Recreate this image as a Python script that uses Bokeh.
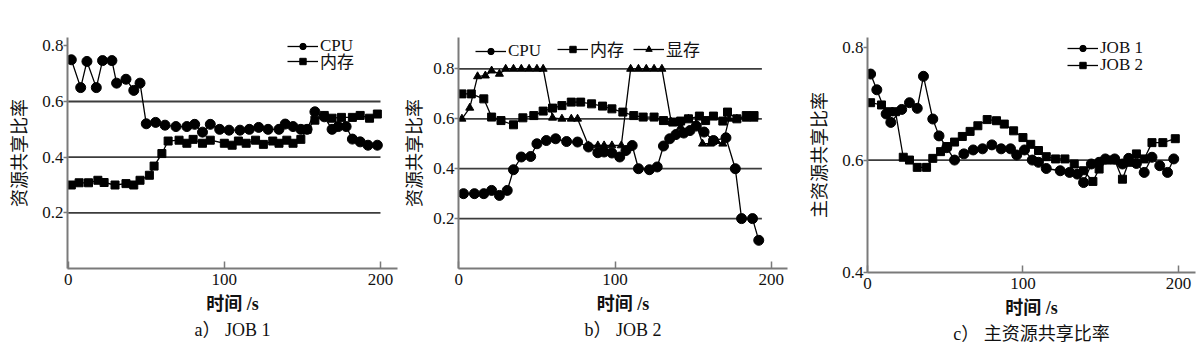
from bokeh.plotting import figure
from bokeh.layouts import row
from bokeh.models import Range1d, FixedTicker, Legend, LegendItem, Title
from bokeh.embed import file_html
from bokeh.resources import INLINE

# ---------------- data ----------------
# (a) JOB 1
cpu_a_t = [2, 8, 12, 18, 22, 28, 31, 37, 42, 46, 50, 56, 62, 69, 76, 81, 86, 91, 97, 103,
           110, 116, 122, 128, 135, 139, 144, 149, 153, 158, 164, 169, 173, 178, 182, 187, 192, 198]
cpu_a = [0.75, 0.65, 0.744, 0.65, 0.747, 0.747, 0.666, 0.68, 0.64, 0.666,
         0.52, 0.525, 0.515, 0.51, 0.51, 0.518, 0.49, 0.518, 0.50, 0.497,
         0.497, 0.50, 0.507, 0.50, 0.50, 0.519, 0.51, 0.50, 0.50, 0.563,
         0.545, 0.50, 0.51, 0.51, 0.465, 0.455, 0.443, 0.443]
mem_a_t = [2, 7, 13, 19, 23, 30, 37, 42, 46, 52, 55, 60, 64, 71, 76, 80, 86, 91, 100, 105,
           109, 114, 120, 125, 131, 135, 140, 144, 149, 153, 158, 164, 169, 175, 182, 187, 193, 198]
mem_a = [0.30, 0.308, 0.308, 0.317, 0.309, 0.30, 0.305, 0.30, 0.317, 0.335,
         0.368, 0.413, 0.458, 0.461, 0.45, 0.464, 0.45, 0.461, 0.45, 0.443,
         0.458, 0.45, 0.461, 0.446, 0.458, 0.45, 0.461, 0.45, 0.464, 0.50,
         0.533, 0.55, 0.54, 0.543, 0.543, 0.55, 0.54, 0.555]

# (b) JOB 2
cpu_b_t = [3, 10, 16, 21, 26, 31, 35, 40, 46, 50, 56, 62, 69, 76, 83, 89, 93, 98, 103, 107,
           111, 115, 122, 127, 131, 135, 139, 144, 148, 152, 157, 163, 171, 177, 181, 188, 192]
cpu_b = [0.30, 0.30, 0.30, 0.313, 0.293, 0.313, 0.396, 0.447, 0.449, 0.50,
         0.513, 0.52, 0.509, 0.507, 0.487, 0.464, 0.467, 0.463, 0.447, 0.473,
         0.493, 0.40, 0.396, 0.407, 0.491, 0.52, 0.537, 0.543, 0.553, 0.571,
         0.547, 0.513, 0.524, 0.40, 0.20, 0.20, 0.113]
mem_b_t = [2, 8, 16, 21, 27, 35, 41, 48, 54, 60, 66, 72, 78, 85, 92, 98, 105, 112, 118, 125,
           131, 137, 142, 147, 154, 158, 163, 169, 172, 178, 184, 189]
mem_b = [0.70, 0.70, 0.68, 0.607, 0.593, 0.576, 0.604, 0.613, 0.631, 0.643,
         0.653, 0.667, 0.667, 0.66, 0.651, 0.64, 0.627, 0.613, 0.607, 0.607,
         0.593, 0.587, 0.591, 0.60, 0.611, 0.593, 0.611, 0.591, 0.627, 0.60,
         0.613, 0.613]
vid_b_t = [2, 7, 12, 17, 21, 26, 30, 35, 40, 45, 50, 54, 60, 66, 72, 76, 83, 89, 93, 98,
           104, 110, 115, 120, 125, 130, 136, 142, 147, 152, 156, 161, 165, 169, 173, 178, 184, 189]
vid_b = [0.60, 0.644, 0.77, 0.773, 0.793, 0.78, 0.80, 0.80, 0.80, 0.80,
         0.80, 0.80, 0.604, 0.60, 0.60, 0.60, 0.493, 0.493, 0.493, 0.493,
         0.493, 0.80, 0.80, 0.80, 0.80, 0.80, 0.587, 0.567, 0.60, 0.58,
         0.50, 0.50, 0.51, 0.50, 0.60, 0.60, 0.60, 0.60]

# (c) main resource share ratio
job1_t = [2, 6, 12, 15, 22, 27, 32, 36, 42, 46, 51, 56, 62, 68, 74, 80, 86, 92, 96, 101,
          106, 110, 115, 124, 130, 135, 139, 144, 149, 153, 159, 164, 168, 173, 178, 183, 188, 193, 197]
job1 = [0.753, 0.725, 0.682, 0.667, 0.69, 0.702, 0.692, 0.749, 0.673, 0.643,
        0.622, 0.60, 0.611, 0.618, 0.62, 0.627, 0.62, 0.62, 0.609, 0.618,
        0.60, 0.596, 0.585, 0.581, 0.578, 0.575, 0.56, 0.593, 0.596, 0.602,
        0.602, 0.593, 0.603, 0.594, 0.578, 0.605, 0.59, 0.578, 0.602]
job2_t = [2, 9, 14, 18, 23, 27, 32, 38, 42, 47, 51, 56, 61, 66, 71, 77, 83, 88, 94, 100,
          105, 110, 115, 121, 127, 133, 139, 145, 149, 154, 159, 164, 168, 173, 178, 183, 190, 198]
job2 = [0.702, 0.698, 0.686, 0.686, 0.605, 0.60, 0.587, 0.587, 0.603, 0.615,
        0.624, 0.632, 0.642, 0.651, 0.661, 0.672, 0.67, 0.664, 0.652, 0.64,
        0.628, 0.617, 0.606, 0.602, 0.602, 0.593, 0.581, 0.562, 0.584, 0.60,
        0.60, 0.566, 0.596, 0.611, 0.602, 0.631, 0.631, 0.638]

x_ticks = [0, 100, 200]
x_title = "时间 /s"

# ---------------- styling ----------------
SERIF = "'Liberation Serif', 'Noto Sans CJK SC', serif"
AXIS_C = "#7a7a7a"
GRID_C = "#3c3c3c"
TXT_C = "#111111"


def make_fig(fw, fh, bl, br, bt, bb, xr, yr, yticks, grid_vals, grid_end, ylabel, caption,
             ylab_standoff=9):
    p = figure(frame_width=fw, frame_height=fh,
               min_border_left=bl, min_border_right=br,
               min_border_top=bt, min_border_bottom=bb,
               x_range=Range1d(*xr), y_range=Range1d(*yr),
               output_backend="svg", toolbar_location=None)
    p.outline_line_color = None
    p.grid.visible = False
    p.background_fill_color = "white"
    p.border_fill_color = "white"

    for ax in (p.xaxis[0], p.yaxis[0]):
        ax.axis_line_color = AXIS_C
        ax.axis_line_width = 2
        ax.major_tick_line_color = AXIS_C
        ax.major_tick_line_width = 1.5
        ax.minor_tick_line_color = None
        ax.major_label_text_font = SERIF
        ax.major_label_text_font_size = "17px"
        ax.major_label_text_color = TXT_C
        ax.axis_label_text_color = TXT_C

    xa = p.xaxis[0]
    xa.ticker = FixedTicker(ticks=x_ticks)
    xa.major_tick_in = 7
    xa.major_tick_out = 0
    xa.major_label_standoff = 5
    xa.axis_label = x_title
    xa.axis_label_text_font = SERIF
    xa.axis_label_text_font_size = "18px"
    xa.axis_label_text_font_style = "bold"
    xa.axis_label_standoff = 6

    ya = p.yaxis[0]
    ya.ticker = FixedTicker(ticks=yticks)
    ya.major_tick_in = 0
    ya.major_tick_out = 4
    ya.major_label_standoff = 0
    ya.axis_label = ylabel
    ya.axis_label_text_font = SERIF
    ya.axis_label_text_font_size = "18px"
    ya.axis_label_text_font_style = "normal"
    ya.axis_label_standoff = ylab_standoff

    n = len(grid_vals)
    p.segment(x0=[0] * n, y0=grid_vals, x1=[grid_end] * n, y1=grid_vals,
              line_color=GRID_C, line_width=1.8)

    t = Title(text=caption, align="center", text_font=SERIF, text_font_size="18px",
              text_font_style="normal", text_color=TXT_C, standoff=3)
    p.add_layout(t, "below")
    return p


def series(p, x, y, marker, size):
    l = p.line(x, y, line_color="black", line_width=1.3)
    s = p.scatter(x, y, marker=marker, size=size, fill_color="black", line_color="black")
    return [l, s]


def add_key(p, label, rends, x, y):
    lg = Legend(items=[LegendItem(label=label, renderers=rends)], location=(x, y))
    lg.glyph_width = 31
    lg.glyph_height = 16
    lg.label_height = 16
    lg.label_standoff = 2
    lg.padding = 0
    lg.margin = 0
    lg.spacing = 0
    lg.border_line_color = None
    lg.background_fill_alpha = 0
    lg.label_text_font = SERIF
    lg.label_text_font_size = "17px"
    lg.label_text_color = TXT_C
    p.add_layout(lg)


# panel a  (frame: x 67..397, y 37..268)
pa = make_fig(330, 231, 67, 3, 37, 73, (-0.45, 210.9), (0, 0.83),
              [0.2, 0.4, 0.6, 0.8], [0.2, 0.4, 0.6], 200, "资源共享比率", "a）\u00a0JOB 1")
ra1 = series(pa, cpu_a_t, cpu_a, "circle", 10)
ra2 = series(pa, mem_a_t, mem_a, "square", 8)
add_key(pa, "CPU", ra1, 220, 212)
add_key(pa, "内存", ra2, 220, 195)

# panel b  (frame: x 458..787, y 37..268)
pb = make_fig(329, 231, 58, 13, 37, 73, (-0.2, 210.4), (0, 0.926),
              [0.2, 0.4, 0.6, 0.8], [0.2, 0.4, 0.6, 0.8], 194, "资源共享比率", "b）\u00a0JOB 2",
              ylab_standoff=5)
rb1 = series(pb, cpu_b_t, cpu_b, "circle", 10)
rb2 = series(pb, mem_b_t, mem_b, "square", 8)
rb3 = series(pb, vid_b_t, vid_b, "triangle", 8)
add_key(pb, "CPU", rb1, 17, 207)
add_key(pb, "内存", rb2, 99, 207)
add_key(pb, "显存", rb3, 175, 207)

# panel c  (frame: x 867..1195, y 35..270)
pc = make_fig(328, 235, 67, 5, 35, 71, (0, 211), (0.4, 0.818),
              [0.4, 0.6, 0.8], [0.6], 198, "主资源共享比率", "c）\u00a0主资源共享比率")
rc1 = series(pc, job1_t, job1, "circle", 10)
rc2 = series(pc, job2_t, job2, "square", 8)
add_key(pc, "JOB 1", rc1, 200, 214)
add_key(pc, "JOB 2", rc2, 200, 197)

layout = row(pa, pb, pc, spacing=0)
open("out.html", "w").write(file_html(layout, INLINE))
